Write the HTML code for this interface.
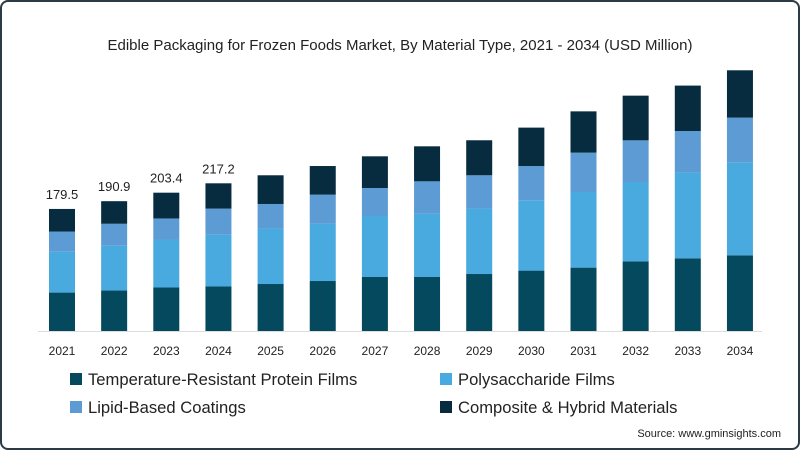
<!DOCTYPE html>
<html><head><meta charset="utf-8"><style>
body{margin:0;background:#fff}
#wrap{width:800px;height:450px;position:relative;box-sizing:border-box;border:2px solid #2b3a44;border-radius:8px;overflow:hidden;background:#fff;font-family:"Liberation Sans",sans-serif}
</style></head><body>
<div id="wrap">
<svg id="chart" width="796" height="446" viewBox="2 2 796 446"></svg>
</div>
<script>
const years=["2021","2022","2023","2024","2025","2026","2027","2028","2029","2030","2031","2032","2033","2034"];
const protein=[56.5,59.5,64,65.5,69.1,73.5,79.4,79.4,83.8,88.8,93.2,102.5,106.9,111.3];
const polysaccharide=[60.1,65.9,70.5,76,81.5,84.4,89.7,93.2,96.2,103.4,111.2,116.6,126,136.8];
const lipid=[29.7,32.3,31,38.5,36.2,42.6,41.2,47.5,49,50.4,57.9,61.3,61.2,65.7];
const composite=[33.2,33.2,37.9,37.2,42.2,42.1,46.6,51.5,51.5,56.5,60.7,65.7,66.8,69.6];
const labeledCount=4;
const seriesNames=["Temperature-Resistant Protein Films","Polysaccharide Films","Lipid-Based Coatings","Composite & Hybrid Materials"];
const colors=["#05495f","#48aadf","#5c9bd4","#072c3f"];
const NS="http://www.w3.org/2000/svg";
const svg=document.getElementById('chart');
function mk(t,a,txt){const e=document.createElementNS(NS,t);for(const k in a)e.setAttribute(k,a[k]);if(txt!=null)e.textContent=txt;svg.appendChild(e);return e;}
const base=331,scale=0.68;
const x=i=>62+i*52.15;
const y=v=>base-v*scale;
const barW=26;
let t=mk('text',{x:400,y:50,'text-anchor':'middle','font-size':15,fill:'#222'},"Edible Packaging for Frozen Foods Market, By Material Type, 2021 - 2034 (USD Million)");


let ax=mk('line',{x1:38,x2:762,y1:base+0.5,y2:base+0.5,stroke:'#ddd','stroke-width':1});


const series=[protein,polysaccharide,lipid,composite];
years.forEach((yr,i)=>{
  let cum=0;
  series.forEach((s,k)=>{
    const r=mk('rect',{x:x(i)-barW/2,y:y(cum+s[i]),width:barW,height:s[i]*scale,fill:colors[k]});
    
    
    cum+=s[i];
  });
  if(i<labeledCount){
    const l=mk('text',{x:x(i),y:y(cum)-10,'text-anchor':'middle','font-size':13,fill:'#222'},cum.toFixed(1));
    
    
  }
  const tl=mk('text',{x:x(i),y:355,'text-anchor':'middle','font-size':12,fill:'#222'},yr);
  
  
});
const legPos=[[70,379],[440,379],[70,407],[440,407]];
seriesNames.forEach((n,k)=>{
  const [lx,ly]=legPos[k];
  const sq=mk('rect',{x:lx,y:ly-6,width:12,height:12,fill:colors[k]});
  
  
  const lt=mk('text',{x:lx+18,y:ly+6,'font-size':16.6,fill:'#222'},n);
  
  
});
const src=mk('text',{x:781,y:437,'text-anchor':'end','font-size':11,fill:'#222'},"Source: www.gminsights.com");


</script>
</body></html>
